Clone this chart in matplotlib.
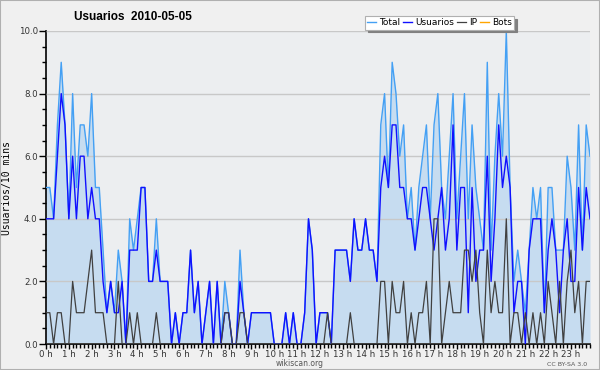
import matplotlib
matplotlib.use("Agg")
import matplotlib.pyplot as plt
import numpy as np
from matplotlib.ticker import MultipleLocator, FixedLocator

# valores cada 10 minutos (144 puntos)
total = [5, 5, 4, 7, 9, 7, 4, 8, 5, 7,
         7, 6, 8, 5, 5, 3, 1, 2, 1, 3,
         2, 0, 4, 3, 4, 5, 5, 2, 2, 4,
         2, 2, 2, 0, 1, 0, 1, 1, 3, 1,
         2, 0, 1, 2, 0, 2, 0, 2, 1, 0,
         0, 3, 1, 0, 1, 1, 1, 1, 1, 1,
         0, 0, 0, 1, 0, 1, 0, 0, 1, 4,
         3, 0, 1, 1, 1, 0, 3, 3, 3, 3,
         2, 4, 3, 3, 4, 3, 3, 2, 7, 8,
         5, 9, 8, 6, 7, 4, 5, 3, 5, 6,
         7, 4, 7, 8, 5, 4, 6, 8, 4, 6,
         8, 4, 7, 5, 4, 3, 9, 3, 6, 8,
         6, 10, 5, 2, 3, 2, 1, 3, 5, 4,
         5, 1, 5, 5, 3, 3, 3, 6, 5, 3,
         7, 3, 7, 6]
usuarios = [4, 4, 4, 6, 8, 7, 4, 6, 4, 6,
            6, 4, 5, 4, 4, 2, 1, 2, 1, 1,
            2, 0, 3, 3, 3, 5, 5, 2, 2, 3,
            2, 2, 2, 0, 1, 0, 1, 1, 3, 1,
            2, 0, 1, 2, 0, 2, 0, 1, 1, 0,
            0, 2, 1, 0, 1, 1, 1, 1, 1, 1,
            0, 0, 0, 1, 0, 1, 0, 0, 1, 4,
            3, 0, 1, 1, 1, 0, 3, 3, 3, 3,
            2, 4, 3, 3, 4, 3, 3, 2, 5, 6,
            5, 7, 7, 5, 5, 4, 4, 3, 4, 5,
            5, 4, 3, 4, 5, 3, 4, 7, 3, 5,
            5, 1, 5, 2, 3, 3, 6, 2, 4, 7,
            5, 6, 5, 1, 2, 2, 0, 3, 4, 4,
            4, 1, 3, 4, 3, 1, 3, 4, 2, 2,
            5, 3, 5, 4]
ip = [1, 1, 0, 1, 1, 0, 0, 2, 1, 1,
      1, 2, 3, 1, 1, 1, 0, 0, 0, 2,
      0, 0, 1, 0, 1, 0, 0, 0, 0, 1,
      0, 0, 0, 0, 0, 0, 0, 0, 0, 0,
      0, 0, 0, 0, 0, 0, 0, 1, 1, 0,
      0, 1, 1, 0, 0, 0, 0, 0, 0, 0,
      0, 0, 0, 0, 0, 0, 0, 0, 0, 0,
      0, 0, 0, 0, 1, 0, 0, 0, 0, 0,
      1, 0, 0, 0, 0, 0, 0, 0, 2, 2,
      0, 2, 1, 1, 2, 0, 1, 0, 1, 1,
      2, 0, 4, 4, 0, 1, 2, 1, 1, 1,
      3, 3, 2, 3, 1, 0, 3, 1, 2, 1,
      1, 4, 0, 1, 1, 0, 1, 0, 1, 0,
      1, 0, 2, 1, 0, 2, 0, 2, 3, 1,
      2, 0, 2, 2]
bots = [0] * 144
hour_labels = ["%d h" % h for h in range(24)]

x = np.arange(len(total))

fig = plt.figure(figsize=(6, 3.7), dpi=100, facecolor="#f0f0f0")
ax = fig.add_axes([46 / 600, 1 - 344 / 370, 544 / 600, 313 / 370])
ax.set_facecolor("#eceef0")

ax.fill_between(x, total, color="#c6dcf0", lw=0, zorder=1)
ax.plot(x, bots, color="#ffa500", lw=1, zorder=2, label="Bots")
ax.plot(x, total, color="#44a0f4", lw=1, zorder=3, label="Total")
ax.plot(x, usuarios, color="#1010ff", lw=1, zorder=4, label="Usuarios")
ax.plot(x, ip, color="#404040", lw=0.9, zorder=5, label="IP")

ax.set_xlim(0, len(total) - 1)
ax.set_ylim(0, 10)
ax.set_axisbelow(False)

ax.yaxis.set_major_locator(MultipleLocator(2))
ax.yaxis.set_minor_locator(MultipleLocator(0.5))
ax.yaxis.set_major_formatter(matplotlib.ticker.FormatStrFormatter("%.1f"))
ax.xaxis.set_major_locator(FixedLocator(list(range(0, 144, 6))))
ax.xaxis.set_minor_locator(MultipleLocator(1))
ax.set_xticklabels(hour_labels)

ax.tick_params(axis="both", which="both", direction="out", colors="black",
               labelsize=6.2, width=1)
ax.tick_params(axis="y", which="major", length=5, pad=1)
ax.tick_params(axis="y", which="minor", length=3)
ax.tick_params(axis="x", which="major", length=3.5, pad=0.5)
ax.tick_params(axis="x", which="minor", length=3)
for lab in ax.get_xticklabels() + ax.get_yticklabels():
    lab.set_color("#333333")

ax.yaxis.grid(True, which="major", color="#c8c8c8", lw=1)
for s in ["top", "right"]:
    ax.spines[s].set_visible(False)
for s in ["left", "bottom"]:
    ax.spines[s].set_linewidth(1.2)

ax.set_ylabel("Usuarios/10 mins", family="DejaVu Sans Mono", fontsize=7, labelpad=5)

fig.text(74 / 600, 1 - 17 / 370, "Usuarios  2010-05-05", fontsize=8.5,
         fontweight="bold", ha="left", va="center", family="Liberation Sans")

h, l = ax.get_legend_handles_labels()
order = [1, 2, 3, 0]
leg = fig.legend([h[i] for i in order], [l[i] for i in order], ncol=4,
                 loc="upper right", bbox_to_anchor=(514 / 600, 1 - 16 / 370),
                 fontsize=6.5, frameon=True, fancybox=False,
                 shadow={"color": "#808080", "alpha": 1},
                 framealpha=1, edgecolor="#b0b0b0", handlelength=1.0,
                 handletextpad=0.3, columnspacing=0.35, borderpad=0.25,
                 borderaxespad=0)
leg.get_frame().set_linewidth(0.8)

fig.text(300 / 600, 1 - 364 / 370, "wikiscan.org", fontsize=5.5, color="#555555",
         ha="center", va="center")
fig.text(567 / 600, 1 - 364 / 370, "CC BY-SA 3.0", fontsize=4.5, color="#555555",
         ha="center", va="center")

fig.patches.append(plt.Rectangle((0, 0), 1, 1, transform=fig.transFigure,
                                 fill=False, edgecolor="#b0b0b0", lw=1.5))

fig.savefig("out.png", dpi=100, facecolor=fig.get_facecolor())
